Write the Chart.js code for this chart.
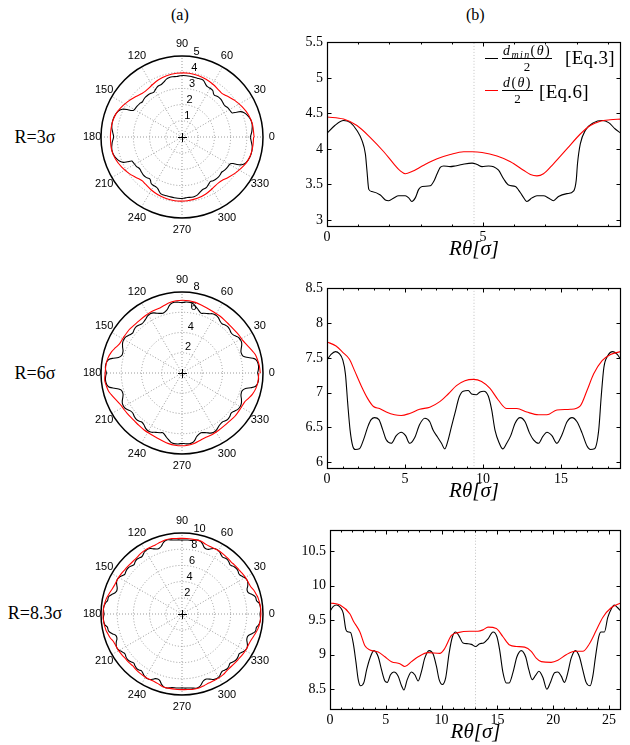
<!DOCTYPE html>
<html>
<head>
<meta charset="utf-8">
<title>d(θ)/2 versus Rθ</title>
<script src="https://cdn.jsdelivr.net/npm/chart.js@4.4.0/dist/chart.umd.min.js"></script>
<style>
  html, body { margin: 0; padding: 0; background: #fff; }
  #fig { position: relative; width: 630px; height: 745px; overflow: hidden;
         font-family: "Liberation Serif", "Times New Roman", serif; color: #000; }
  #fig canvas { position: absolute; }
  .txt { position: absolute; white-space: nowrap; line-height: 1; }
  .col { font-size: 16px; }
  .row { font-size: 18px; width: 70px; text-align: center; }
  .key { position: absolute; width: 13px; height: 0; border-top: 1px solid; }
  .frac { position: absolute; display: flex; flex-direction: column; align-items: center; }
  .frac .num { font-size: 14px; line-height: 13px; letter-spacing: 1.4px; padding: 0 1px 1px; border-bottom: 1px solid #000; }
  .frac .num sub { font-size: 10px; line-height: 0; vertical-align: -3px; }
  .frac .den { font-size: 13px; line-height: 12px; padding-top: 2px; }
  .eq { font-size: 19px; letter-spacing: 0.3px; }
</style>
</head>
<body>
<div id="fig">
  <div class="txt col" style="left:171px;top:7px">(a)</div>
  <div class="txt col" style="left:466px;top:7px">(b)</div>
  <div class="txt row" style="left:0px;top:128px">R=3σ</div>
  <div class="txt row" style="left:0px;top:364px">R=6σ</div>
  <div class="txt row" style="left:0px;top:604px">R=8.3σ</div>

  <canvas id="polar1" width="220" height="220" style="left:72px;top:27px"></canvas>
  <canvas id="polar2" width="220" height="220" style="left:72px;top:263px"></canvas>
  <canvas id="polar3" width="220" height="220" style="left:72px;top:504px"></canvas>

  <canvas id="line1" width="350" height="233" style="left:280px;top:30px"></canvas>
  <canvas id="line2" width="350" height="229" style="left:280px;top:276px"></canvas>
  <canvas id="line3" width="347" height="228" style="left:283px;top:518px"></canvas>

  <!-- legend of the first panel -->
  <div class="key" style="left:485px;top:58px;border-color:#000"></div>
  <div class="frac" style="left:502px;top:44px"><span class="num"><i>d</i><sub><i>min</i></sub>(<i>θ</i>)</span><span class="den">2</span></div>
  <div class="txt eq" style="left:565px;top:48px">[Eq.3]</div>
  <div class="key" style="left:485px;top:90px;border-color:#ff0000"></div>
  <div class="frac" style="left:502px;top:76px"><span class="num"><i>d</i>(<i>θ</i>)</span><span class="den">2</span></div>
  <div class="txt eq" style="left:539px;top:82px">[Eq.6]</div>
</div>

<script>
// ---------------- data ----------------
const radii = [3, 6, 8.3];                 // R in units of sigma
const polarMax = [5, 8, 10];
const polarRings1 = [1, 2, 3, 4, 5];
const polarRings2 = [2, 4, 6, 8];
const polarRings3 = [2, 4, 6, 8, 10];
const angleTicks = [0, 30, 60, 90, 120, 150, 180, 210, 240, 270, 300, 330];
const xMajor = [0, 5, 10, 15, 20, 25];
const yTicks1 = [3, 3.5, 4, 4.5, 5, 5.5];
const yTicks2 = [6, 6.5, 7, 7.5, 8, 8.5];
const yTicks3 = [8.5, 9, 9.5, 10, 10.5];

// R = 3 sigma : d_min/2 (black)
const rth1Black = [0, 0.25, 0.53, 0.75, 0.96, 1.12, 1.23, 1.28, 1.34, 1.44, 1.71, 1.87, 1.98, 2.14, 2.30, 2.51,
  2.62, 2.72, 2.83, 2.94, 3.05, 3.31, 3.42, 3.53, 3.63, 3.74, 3.95, 4.11, 4.33, 4.65, 4.81, 4.97, 5.18, 5.34,
  5.50, 5.66, 5.82, 6.04, 6.14, 6.25, 6.41, 6.57, 6.73, 6.94, 7.10, 7.26, 7.42, 7.69, 7.91, 7.99, 8.03, 8.12,
  8.28, 8.55, 8.81, 9.03, 9.24, 9.42];
const dmin1 = [4.22, 4.33, 4.40, 4.37, 4.26, 4.12, 3.93, 3.70, 3.43, 3.40, 3.35, 3.28, 3.27, 3.31, 3.34, 3.34,
  3.31, 3.26, 3.31, 3.43, 3.47, 3.48, 3.54, 3.65, 3.74, 3.76, 3.75, 3.76, 3.78, 3.80, 3.78, 3.75, 3.76, 3.75,
  3.70, 3.58, 3.49, 3.47, 3.42, 3.35, 3.26, 3.31, 3.34, 3.34, 3.31, 3.27, 3.33, 3.37, 3.41, 3.56, 3.79, 4.07,
  4.26, 4.37, 4.40, 4.37, 4.28, 4.22];
// R = 3 sigma : d/2 (red)
const rth1Red = [0, 0.53, 0.96, 1.39, 1.82, 2.14, 2.35, 2.51, 2.72, 3.10, 3.53, 3.95, 4.38, 4.65, 4.97, 5.45,
  5.88, 6.30, 6.52, 6.73, 6.94, 7.26, 7.69, 8.12, 8.44, 8.76, 9.08, 9.42];
const d1 = [4.45, 4.42, 4.33, 4.16, 3.96, 3.79, 3.69, 3.65, 3.68, 3.77, 3.86, 3.92, 3.96, 3.96, 3.95, 3.90,
  3.82, 3.70, 3.64, 3.62, 3.65, 3.79, 4.00, 4.21, 4.33, 4.39, 4.41, 4.42];

// R = 6 sigma
const rth2Black = [0, 0.26, 0.54, 0.79, 1.01, 1.18, 1.33, 1.48, 1.65, 1.82, 2.08, 2.34, 2.62, 2.83, 3.05, 3.33,
  3.58, 3.80, 4.12, 4.44, 4.76, 5.04, 5.30, 5.62, 5.94, 6.27, 6.59, 6.80, 7.06, 7.34, 7.55, 7.77, 7.98, 8.20,
  8.48, 8.73, 9.06, 9.27, 9.59, 9.81, 10.06, 10.34, 10.56, 10.77, 11.05, 11.27, 11.52, 11.78, 12.06, 12.38,
  12.70, 12.98, 13.24, 13.56, 13.84, 14.10, 14.42, 14.74, 15.06, 15.39, 15.71, 16.03, 16.35, 16.67, 16.89,
  17.15, 17.42, 17.58, 17.75, 18.00, 18.33, 18.61, 18.85];
const dmin2 = [7.47, 7.55, 7.59, 7.56, 7.47, 7.27, 6.84, 6.46, 6.23, 6.18, 6.19, 6.32, 6.51, 6.61, 6.64, 6.61,
  6.46, 6.32, 6.27, 6.38, 6.43, 6.38, 6.27, 6.35, 6.54, 6.63, 6.58, 6.46, 6.37, 6.27, 6.19, 6.32, 6.51, 6.70,
  6.94, 7.02, 7.03, 6.98, 6.97, 7.01, 7.02, 6.95, 6.75, 6.46, 6.27, 6.19, 6.27, 6.38, 6.56, 6.64,
  6.58, 6.42, 6.32, 6.27, 6.37, 6.43, 6.38, 6.27, 6.39, 6.58, 6.64, 6.58, 6.42, 6.23, 6.18,
  6.19, 6.46, 6.94, 7.36, 7.53, 7.59, 7.55, 7.47];
const rth2Red = [0, 0.58, 1.01, 1.44, 1.76, 2.19, 2.62, 2.98, 3.37, 3.80, 4.33, 4.76, 5.30, 5.94, 6.59, 7.23,
  7.77, 8.30, 8.84, 9.38, 9.91, 10.45, 10.99, 11.52, 12.17, 12.81, 13.56, 14.10, 14.74, 15.60, 16.24, 16.67,
  17.10, 17.64, 18.18, 18.85];
const d2 = [7.73, 7.67, 7.58, 7.48, 7.32, 7.10, 6.91, 6.80, 6.77, 6.72, 6.68, 6.67, 6.70, 6.76, 6.79, 6.87,
  6.98, 7.10, 7.17, 7.19, 7.16, 7.06, 6.89, 6.77, 6.77, 6.72, 6.68, 6.68, 6.75, 6.76, 6.81, 7.03,
  7.27, 7.46, 7.55, 7.59];

// R = 8.3 sigma
const rth3Black = [0, 0.30, 0.60, 0.95, 1.19, 1.43, 1.64, 1.85, 2.09, 2.32, 2.53, 2.74, 3.04, 3.28, 3.58, 3.93,
  4.32, 4.62, 4.92, 5.13, 5.42, 5.72, 6.11, 6.41, 6.62, 6.92, 7.30, 7.60, 7.90, 8.20, 8.49, 8.88, 9.24, 9.54,
  9.78, 10.07, 10.37, 10.67, 10.97, 11.27, 11.57, 11.92, 12.37, 12.67, 13.05, 13.41, 13.77, 14.16, 14.61,
  14.96, 15.20, 15.50, 15.80, 16.04, 16.39, 16.75, 17.14, 17.53, 17.82, 18.12, 18.42, 18.72, 19.08, 19.43,
  19.73, 20.12, 20.42, 20.72, 21.01, 21.31, 21.61, 22.00, 22.35, 22.65, 22.95, 23.31, 23.55, 23.79, 24.08,
  24.29, 24.59, 24.89, 25.19, 25.48, 25.78, 26.08];
const dmin3 = [9.63, 9.70, 9.72, 9.68, 9.60, 9.36, 9.33, 9.32, 9.16, 8.90, 8.64, 8.55, 8.60, 8.78, 8.95, 9.06,
  8.97, 8.78, 8.62, 8.60, 8.71, 8.75, 8.69, 8.55, 8.49, 8.64, 8.75, 8.71, 8.62, 8.76, 8.95, 9.06, 9.01, 8.83,
  8.64, 8.57, 8.67, 9.02, 9.26, 9.33, 9.27, 9.17, 9.16, 9.15, 9.12, 9.16, 9.17, 9.23, 9.33,
  9.26, 9.07, 8.74, 8.59, 8.59, 8.74, 8.97, 9.06, 8.97, 8.78, 8.64, 8.70, 8.76, 8.67, 8.50,
  8.59, 8.74, 8.75, 8.69, 8.60, 8.74, 8.95, 9.06, 8.97, 8.78, 8.60, 8.55, 8.69, 8.97, 9.26,
  9.33, 9.33, 9.54, 9.66, 9.72, 9.68, 9.63];
const rth3Red = [0, 0.90, 1.79, 2.09, 2.68, 3.13, 3.58, 4.32, 4.92, 5.51, 6.26, 6.71, 7.30, 7.90, 8.79, 9.84,
  10.28, 10.88, 11.47, 12.52, 13.26, 13.71, 14.16, 14.90, 15.50, 16.10, 16.69, 17.44, 18.03, 18.48, 18.93,
  19.82, 20.42, 21.16, 21.91, 22.65, 23.25, 23.85, 24.44, 25.19, 26.08];
const d3 = [9.75, 9.72, 9.59, 9.49, 9.33, 9.13, 9.07, 9.04, 8.97, 8.90, 8.87, 8.83, 8.90, 8.97, 9.03, 9.02,
  9.09, 9.28, 9.32, 9.34, 9.34, 9.36, 9.40, 9.38, 9.26, 9.14, 9.12, 9.11, 9.05, 8.95, 8.90,
  8.89, 8.92, 9.00, 9.05, 9.05, 9.16, 9.35, 9.54, 9.68, 9.75];

// ---------------- helpers ----------------
const SERIF = '"Liberation Serif", "Times New Roman", serif';
const SANS = '"Liberation Sans", Arial, sans-serif';

const pts = (xs, ys) => xs.map((x, i) => ({ x, y: ys[i] }));

// arc length R*theta -> polar point; the second half of the turn repeats the first one
function polarPts(xs, ys, R) {
  const out = [];
  [1, -1].forEach((sgn, h) => {
    xs.forEach((s, i) => {
      if (h === 1 && i === 0) return;
      const th = s / R;
      out.push({ x: sgn * ys[i] * Math.cos(th), y: sgn * ys[i] * Math.sin(th) });
    });
  });
  return out;
}

// MATLAB-like box with inward ticks
const framePlugin = {
  id: 'frame',
  afterDatasetsDraw(chart, args, o) {
    const { ctx, chartArea: a, scales: { x, y } } = chart;
    const L = Math.round(a.left) + 0.5, R = Math.round(a.right) - 0.5;
    const T = Math.round(a.top) + 0.5, B = Math.round(a.bottom) - 0.5;
    ctx.save();
    ctx.strokeStyle = '#000';
    ctx.lineWidth = 1;
    ctx.beginPath();
    o.minors.forEach(v => {
      const px = Math.round(x.getPixelForValue(v)) + 0.5;
      ctx.moveTo(px, B); ctx.lineTo(px, B - 2);
      ctx.moveTo(px, T); ctx.lineTo(px, T + 2);
    });
    o.majors.forEach(v => {
      const px = Math.round(x.getPixelForValue(v)) + 0.5;
      ctx.moveTo(px, B); ctx.lineTo(px, B - 4);
      ctx.moveTo(px, T); ctx.lineTo(px, T + 4);
    });
    o.yTicks.forEach(v => {
      const py = Math.round(y.getPixelForValue(v)) + 0.5;
      ctx.moveTo(L, py); ctx.lineTo(L + 4, py);
      ctx.moveTo(R, py); ctx.lineTo(R - 4, py);
    });
    ctx.stroke();
    ctx.lineWidth = 1.2;
    ctx.strokeRect(L, T, R - L, B - T);
    ctx.restore();
  }
};

// polar grid drawn from the x/y scales
const polarGrid = {
  id: 'polarGrid',
  beforeDatasetsDraw(chart, args, o) {
    const { ctx, scales: { x, y } } = chart;
    const cx = x.getPixelForValue(0), cy = y.getPixelForValue(0);
    const k = x.getPixelForValue(1) - cx;
    const Rpx = o.rmax * k;
    ctx.save();
    ctx.lineWidth = 1;
    ctx.strokeStyle = '#9a9a9a';
    ctx.setLineDash([1, 2]);
    o.rings.filter(r => r < o.rmax).forEach(r => {
      ctx.beginPath(); ctx.arc(cx, cy, r * k, 0, 2 * Math.PI); ctx.stroke();
    });
    angleTicks.filter(a => a < 180).forEach(a => {
      const t = a * Math.PI / 180;
      ctx.beginPath();
      ctx.moveTo(cx - Rpx * Math.cos(t), cy + Rpx * Math.sin(t));
      ctx.lineTo(cx + Rpx * Math.cos(t), cy - Rpx * Math.sin(t));
      ctx.stroke();
    });
    ctx.setLineDash([]);
    ctx.strokeStyle = '#000';
    ctx.lineWidth = 1.5;
    ctx.beginPath(); ctx.arc(cx, cy, Rpx, 0, 2 * Math.PI); ctx.stroke();
    ctx.lineWidth = 1;
    ctx.beginPath();
    ctx.moveTo(cx - 4, cy + 0.5); ctx.lineTo(cx + 5, cy + 0.5);
    ctx.moveTo(cx + 0.5, cy - 4); ctx.lineTo(cx + 0.5, cy + 5);
    ctx.stroke();

    ctx.fillStyle = '#000';
    ctx.font = '11px ' + SANS;
    ctx.textAlign = 'center';
    ctx.textBaseline = 'middle';
    angleTicks.forEach(a => {
      const t = a * Math.PI / 180;
      ctx.fillText(String(a), cx + 1.11 * Rpx * Math.cos(t), cy - 1.15 * Rpx * Math.sin(t));
    });
    ctx.textAlign = 'left';
    ctx.textBaseline = 'bottom';
    const t82 = 82 * Math.PI / 180;
    const rinc = o.rings[1] - o.rings[0];
    o.rings.forEach(r => {
      const d = (r + rinc / 20) * k;
      ctx.fillText(String(r), cx + d * Math.cos(t82), cy - d * Math.sin(t82) + 1);
    });
    ctx.restore();
  }
};

function polarPanel(id, R, bx, by, rx, ry, rmax, rings) {
  const A = rmax * 110 / 81;
  return new Chart(document.getElementById(id), {
    type: 'scatter',
    data: {
      datasets: [
        { data: polarPts(rx, ry, R), borderColor: '#ff0000', showLine: true, order: 0 },
        { data: polarPts(bx, by, R), borderColor: '#000000', showLine: true, order: 1 }
      ]
    },
    options: {
      responsive: false,
      animation: false,
      events: [],
      layout: { padding: 0 },
      elements: {
        line: { borderWidth: 1.1, tension: 0.3, fill: false },
        point: { radius: 0 }
      },
      plugins: { legend: { display: false }, tooltip: { enabled: false }, polarGrid: { rmax, rings } },
      scales: {
        x: { type: 'linear', min: -A, max: A, display: false },
        y: { type: 'linear', min: -A, max: A, display: false }
      }
    },
    plugins: [polarGrid]
  });
}

function linePanel(id, R, bx, by, rx, ry, yMin, yMax, yTicks) {
  const xMax = Math.PI * R;
  const majors = xMajor.filter(v => v <= xMax);
  const minors = [];
  for (let v = 0; v <= xMax; v += 1) minors.push(v);
  return new Chart(document.getElementById(id), {
    type: 'scatter',
    data: {
      datasets: [
        { data: pts(rx, ry), borderColor: '#ff0000', showLine: true, order: 0 },
        { data: pts(bx, by), borderColor: '#000000', showLine: true, order: 1 },
        { data: [{ x: xMax / 2, y: yMin }, { x: xMax / 2, y: yMax }], borderColor: '#c4c4c4',
          borderWidth: 1, borderDash: [1, 2], showLine: true, order: 2 }
      ]
    },
    options: {
      responsive: false,
      animation: false,
      events: [],
      layout: { padding: { top: 11, right: 9, left: 0, bottom: 0 } },
      elements: {
        line: { borderWidth: 1.1, cubicInterpolationMode: 'monotone', fill: false },
        point: { radius: 0 }
      },
      plugins: {
        legend: { display: false },
        tooltip: { enabled: false },
        frame: { majors, minors, yTicks }
      },
      scales: {
        x: {
          type: 'linear', min: 0, max: xMax,
          afterBuildTicks: s => { s.ticks = majors.map(v => ({ value: v })); },
          afterFit: s => { s.height = 36; },
          grid: { display: false, drawTicks: false },
          border: { display: false },
          ticks: { color: '#000', font: { family: SERIF, size: 14 }, padding: 2, maxRotation: 0,
                   autoSkip: false, callback: v => String(v) },
          title: { display: true, text: 'Rθ[σ]', color: '#000',
                   font: { family: SERIF, size: 21, style: 'italic', lineHeight: 1 },
                   padding: { top: 0, bottom: 3 } }
        },
        y: {
          type: 'linear', min: yMin, max: yMax,
          afterBuildTicks: s => { s.ticks = yTicks.map(v => ({ value: v })); },
          afterFit: s => { s.width = 47; },
          grid: { display: false, drawTicks: false },
          border: { display: false },
          ticks: { color: '#000', font: { family: SERIF, size: 14 }, padding: 4,
                   autoSkip: false, callback: v => String(v) }
        }
      }
    },
    plugins: [framePlugin]
  });
}

polarPanel('polar1', radii[0], rth1Black, dmin1, rth1Red, d1, polarMax[0], polarRings1);
polarPanel('polar2', radii[1], rth2Black, dmin2, rth2Red, d2, polarMax[1], polarRings2);
polarPanel('polar3', radii[2], rth3Black, dmin3, rth3Red, d3, polarMax[2], polarRings3);

linePanel('line1', radii[0], rth1Black, dmin1, rth1Red, d1, 2.9, 5.5, yTicks1);
linePanel('line2', radii[1], rth2Black, dmin2, rth2Red, d2, 5.9, 8.5, yTicks2);
linePanel('line3', radii[2], rth3Black, dmin3, rth3Red, d3, 8.2, 10.8, yTicks3);
</script>
</body>
</html>
